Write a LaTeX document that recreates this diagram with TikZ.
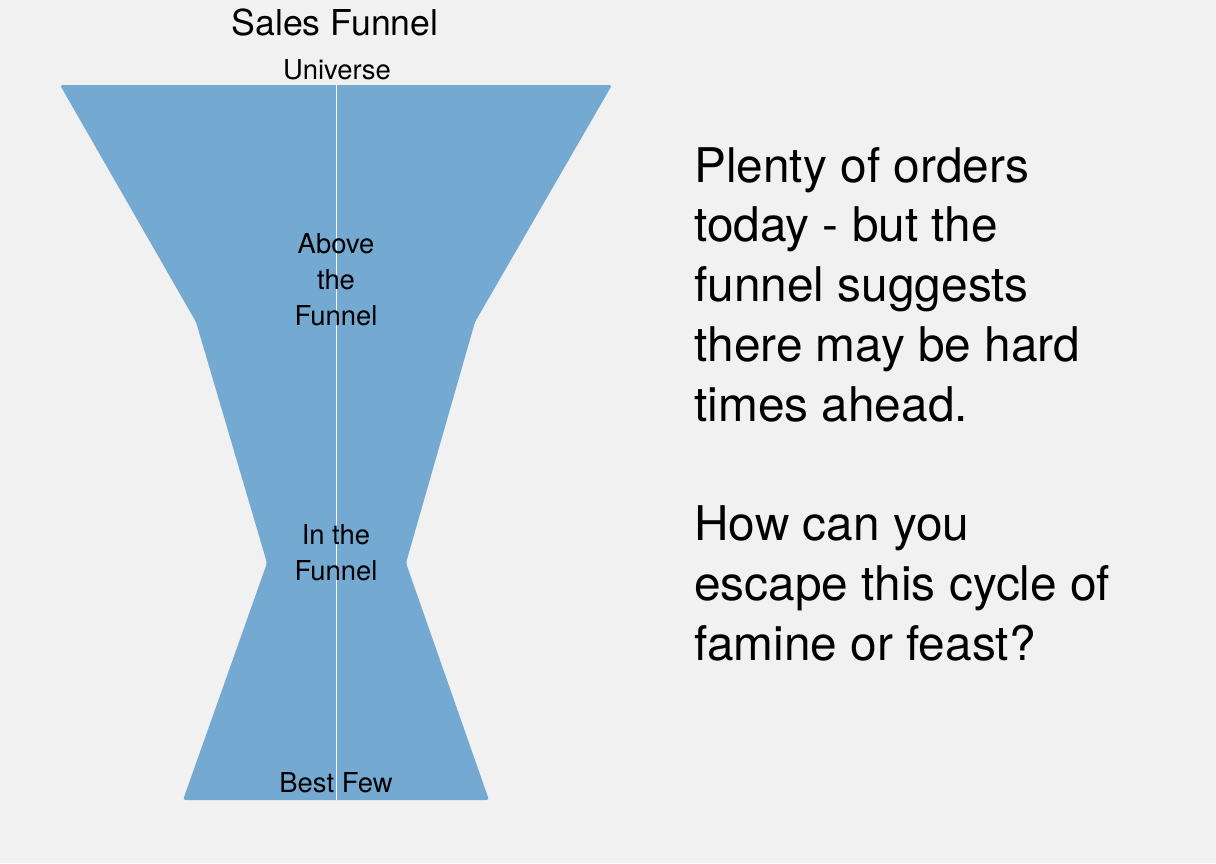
\documentclass[tikz,border=0pt]{standalone}
\usepackage{fontspec}
\setmainfont{TeX Gyre Heros}

\definecolor{funnelblue}{RGB}{116,169,210}
\definecolor{paper}{RGB}{241,241,241}

\begin{document}
\begin{tikzpicture}[x=0.02cm, y=-0.02cm,
    stage/.style={align=center, anchor=base, inner sep=0pt, font=\fontsize{15.6}{20.4}\selectfont},
    heading/.style={anchor=base, inner sep=0pt, font=\fontsize{20.3}{24}\selectfont},
    remark/.style={align=left, anchor=base west, inner sep=0pt, font=\fontsize{27.2}{34}\selectfont}]
  \fill[paper] (0,0) rectangle (1216,863);
  \useasboundingbox (0,0) rectangle (1216,863);
  \fill[funnelblue, rounded corners=1.5pt] (60,85) -- (612,85) -- (475,322) -- (406,563)
    -- (489,800) -- (183,800) -- (267,563) -- (196,322) -- cycle;
  \coordinate (top) at (336.5,85);
  \coordinate (bottom) at (336.5,800);
  \draw[white, line width=0.6pt] (top) -- (bottom);
  % multi-line nodes sit on their last baseline
  \node[heading] (title) at (335,35) {Sales Funnel};
  \node[stage] (universe) at (337,79) {Universe};
  \node[stage] (above) at (336,325) {Above\\the\\Funnel};
  \node[stage] (infunnel) at (336,580) {In the\\Funnel};
  \node[stage] (bestfew) at (336,792) {Best Few};
  \node[remark] (note) at (694,660) {Plenty of orders\\today - but the\\funnel suggests\\there may be hard\\times ahead.\\[34pt]How can you\\escape this cycle of\\famine or feast?};
\end{tikzpicture}
\end{document}
